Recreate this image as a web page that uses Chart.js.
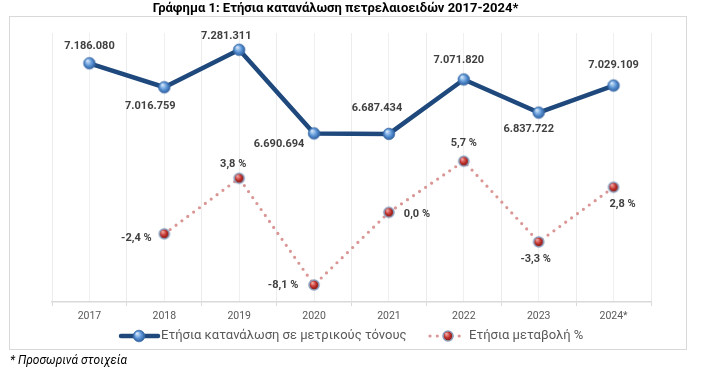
<!DOCTYPE html>
<html>
<head>
<meta charset="utf-8">
<script src="https://cdn.jsdelivr.net/npm/chart.js@4.4.1/dist/chart.umd.min.js"></script>
<style>
  body { margin: 0; background: #fff; }
  #wrap { position: relative; width: 709px; height: 368px; }
  #titulo { position: absolute; left: 0; top: 0; width: 671px; text-align: center;
    font: bold 13px Roboto, sans-serif; color: #000; line-height: 15px; }
  #nota { position: absolute; left: 10px; top: 353px; font: italic 12px Roboto, sans-serif; color: #000; line-height: 14px; }
  canvas { position: absolute; left: 0; top: 0; }
</style>
</head>
<body>
<div id="wrap">
  <canvas id="consumoChart" width="709" height="368"></canvas>
  <div id="titulo">Γράφημα 1: Ετήσια κατανάλωση πετρελαιοειδών 2017-2024*</div>
  <div id="nota">* Προσωρινά στοιχεία</div>
</div>
<script>
const anos = ["2017", "2018", "2019", "2020", "2021", "2022", "2023", "2024*"];
const consumo = [7186080, 7016759, 7281311, 6690694, 6687434, 7071820, 6837722, 7029109];
const variacao = [null, -2.4, 3.8, -8.1, 0.0, 5.7, -3.3, 2.8];
const serieConsumo = "Ετήσια κατανάλωση σε μετρικούς τόνους";
const serieVariacao = "Ετήσια μεταβολή %";

// deslocamento dos rótulos em relação ao ponto
const offsetConsumo = [[0, -17], [-14, 19], [-13, -14], [-35, 11], [-12, -26], [-5, -19], [-10, 17], [0, -20]];
const offsetVariacao = [null, [-28, 4], [-6, -14], [-31, 0], [28, 2], [0, -18], [-3, 17], [9, 17]];

const AZUL = "#1f497d";
const ROSA = "#d99694";

function esfera(r, c1, c2, c3, anel, anelW) {
  const size = Math.ceil(r * 2 + 4);
  const cv = document.createElement("canvas");
  cv.width = size;
  cv.height = size;
  const ctx = cv.getContext("2d");
  const c = size / 2;
  const g = ctx.createRadialGradient(c - r * 0.35, c - r * 0.45, r * 0.1, c, c, r);
  g.addColorStop(0, c1);
  g.addColorStop(0.55, c2);
  g.addColorStop(1, c3);
  ctx.beginPath();
  ctx.arc(c, c, r, 0, Math.PI * 2);
  ctx.fillStyle = g;
  ctx.fill();
  ctx.lineWidth = anelW;
  ctx.strokeStyle = anel;
  ctx.stroke();
  return cv;
}

const bolaAzul = esfera(5.8, "#d2e4f7", "#5d97d8", "#2c5d9c", "#3f6fa9", 0.8);
const bolaVermelha = esfera(5, "#f3a5a0", "#c1302b", "#761612", "#8d9fbd", 1.6);

function formatConsumo(v) {
  return String(v).replace(/\B(?=(\d{3})+(?!\d))/g, ".");
}

function formatVariacao(v) {
  return v.toFixed(1).replace(".", ",") + " %";
}

const rotulosPlugin = {
  id: "rotulos",
  afterDatasetsDraw(chart) {
    const ctx = chart.ctx;
    ctx.save();
    ctx.font = "bold 11px Roboto, sans-serif";
    ctx.fillStyle = "#404040";
    ctx.textAlign = "center";
    ctx.textBaseline = "middle";
    chart.getDatasetMeta(0).data.forEach((p, i) => {
      const o = offsetConsumo[i];
      ctx.fillText(formatConsumo(consumo[i]), p.x + o[0], p.y + o[1]);
    });
    chart.getDatasetMeta(1).data.forEach((p, i) => {
      if (variacao[i] === null) return;
      const o = offsetVariacao[i];
      ctx.fillText(formatVariacao(variacao[i]), p.x + o[0], p.y + o[1]);
    });
    ctx.restore();
  },
};

const molduraPlugin = {
  id: "moldura",
  beforeDraw(chart) {
    const ctx = chart.ctx;
    ctx.save();
    ctx.fillStyle = "#fff";
    ctx.fillRect(0, 0, chart.width, chart.height);
    ctx.strokeStyle = "#d9d9d9";
    ctx.lineWidth = 1;
    ctx.strokeRect(9.5, 16.5, 677, 333);
    ctx.restore();
  },
  afterDraw(chart) {
    const ctx = chart.ctx;
    const y = 336;
    ctx.save();
    ctx.strokeStyle = AZUL;
    ctx.lineWidth = 4.5;
    ctx.lineCap = "round";
    ctx.beginPath();
    ctx.moveTo(121, y);
    ctx.lineTo(158, y);
    ctx.stroke();
    ctx.drawImage(bolaAzul, 139 - bolaAzul.width / 2, y - bolaAzul.height / 2);

    ctx.strokeStyle = ROSA;
    ctx.lineWidth = 3.2;
    ctx.setLineDash([0, 7.3]);
    ctx.beginPath();
    ctx.moveTo(430, y);
    ctx.lineTo(466, y);
    ctx.stroke();
    ctx.setLineDash([]);
    ctx.drawImage(bolaVermelha, 448 - bolaVermelha.width / 2, y - bolaVermelha.height / 2);

    ctx.font = "13px Roboto, sans-serif";
    ctx.fillStyle = "#595959";
    ctx.textBaseline = "middle";
    ctx.textAlign = "left";
    ctx.fillText(serieConsumo, 161, y);
    ctx.fillText(serieVariacao, 469, y);
    ctx.restore();
  },
};

new Chart(document.getElementById("consumoChart"), {
  type: "line",
  data: {
    labels: anos,
    datasets: [
      {
        label: serieConsumo,
        data: consumo,
        yAxisID: "y",
        borderColor: AZUL,
        borderWidth: 4.5,
        tension: 0,
        pointStyle: bolaAzul,
        pointRadius: 6,
      },
      {
        label: serieVariacao,
        data: variacao,
        yAxisID: "y1",
        borderColor: ROSA,
        borderWidth: 3.2,
        borderDash: [0, 7.3],
        borderCapStyle: "round",
        tension: 0,
        pointStyle: bolaVermelha,
        pointRadius: 6,
      },
    ],
  },
  options: {
    responsive: false,
    animation: false,
    events: [],
    layout: {
      padding: { left: 52, right: 58, top: 33, bottom: 46 },
    },
    plugins: {
      legend: { display: false },
      tooltip: { enabled: false },
    },
    scales: {
      x: {
        offset: true,
        grid: {
          offset: true,
          color: "#ececec",
          tickColor: "#d9d9d9",
          tickLength: 4,
        },
        border: { color: "#d9d9d9", width: 1.5 },
        ticks: {
          color: "#595959",
          font: { family: "Roboto", size: 10.5 },
          padding: 4,
          maxRotation: 0,
        },
        afterFit(scale) {
          scale.height = 20;
        },
      },
      x2: {
        position: "bottom",
        offset: true,
        grid: { offset: false, color: "#f0f0f0", drawTicks: false },
        border: { display: false },
        ticks: { display: false },
        afterFit(scale) {
          scale.height = 0;
        },
      },
      y: {
        display: false,
        min: 5500000,
        max: 7400000,
      },
      y1: {
        display: false,
        min: -10,
        max: 20,
      },
    },
  },
  plugins: [molduraPlugin, rotulosPlugin],
});
</script>
</body>
</html>
